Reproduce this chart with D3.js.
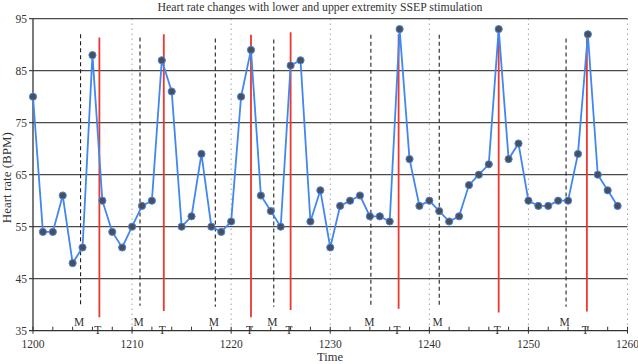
<!DOCTYPE html>
<html lang="en">
<head>
<meta charset="UTF-8">
<title>Heart rate SSEP</title>
<script src="https://d3js.org/d3.v7.min.js"></script>
<style>
  body { margin: 0; background: #fff; }
  svg text { font-family: "Liberation Serif", "DejaVu Serif", serif; fill: #333; }
</style>
</head>
<body>
<svg width="638" height="364"></svg>
<script>
// heart rate, one reading per time step from 1200 to 1259
const times = d3.range(1200, 1260);
const heartRate = [80, 54, 54, 61, 48, 51, 88, 60, 54, 51,
                   55, 59, 60, 87, 81, 55, 57, 69, 55, 54,
                   56, 80, 89, 61, 58, 55, 86, 87, 56, 62,
                   51, 59, 60, 61, 57, 57, 56, 93, 68, 59,
                   60, 58, 56, 57, 63, 65, 67, 93, 68, 71,
                   60, 59, 59, 60, 60, 69, 92, 65, 62, 59];

// stimulation markers: M = lower extremity (dashed), T = upper extremity (red)
const mTimes = [1204.8, 1210.8, 1218.4, 1224.3, 1234.1, 1241, 1253.8];
const mTop = [92, 91.4, 91.2, 91, 91.9, 91.9, 91.2];
const mBottom = [39.6, 39.8, 39.6, 39.6, 39.6, 39.4, 39.6];
const tTimes = [1206.7, 1213.2, 1222, 1226, 1236.9, 1247, 1255.9];
const tTop = [91.4, 92, 91.9, 92.4, 92, 93, 92.2];
const tBottom = [37.6, 38.8, 37.6, 39, 39.2, 38.5, 38.7];

const yTicks = [35, 45, 55, 65, 75, 85, 95];
const xMajor = [1200, 1210, 1220, 1230, 1240, 1250, 1260];
const xMinor = d3.range(1202, 1260, 2).filter(v => v % 10 !== 0);

const svg = d3.select("svg");
const x = d3.scaleLinear().domain([1200, 1260]).range([33, 627.5]);
const y = d3.scaleLinear().domain([35, 95]).range([330.7, 18.7]);

// vertical dotted grid
svg.append("g").selectAll("line").data(xMajor.slice(1)).join("line")
  .attr("x1", d => x(d)).attr("x2", d => x(d))
  .attr("y1", y(95)).attr("y2", y(35))
  .attr("stroke", "#777").attr("stroke-width", 1)
  .attr("stroke-dasharray", "1,4");

// horizontal grid
svg.append("g").selectAll("line").data(yTicks.slice(1)).join("line")
  .attr("x1", x(1200) - 4).attr("x2", x(1260))
  .attr("y1", d => y(d)).attr("y2", d => y(d))
  .attr("stroke", "#4a4a4a").attr("stroke-width", 1.2);

// y tick labels
svg.append("g").selectAll("text").data(yTicks).join("text")
  .attr("x", 27).attr("y", d => y(d) + 4)
  .attr("text-anchor", "end").style("font-size", "11.5px")
  .text(d => d);

// axes lines
svg.append("line").attr("x1", x(1200)).attr("x2", x(1200))
  .attr("y1", y(95)).attr("y2", y(35)).attr("stroke", "#333").attr("stroke-width", 1.3);
svg.append("line").attr("x1", x(1200) - 4).attr("x2", x(1260))
  .attr("y1", y(35)).attr("y2", y(35)).attr("stroke", "#333").attr("stroke-width", 1.3);

// x ticks
svg.append("g").selectAll("line").data(xMinor).join("line")
  .attr("x1", d => x(d)).attr("x2", d => x(d))
  .attr("y1", y(35)).attr("y2", y(35) - 4)
  .attr("stroke", "#333").attr("stroke-width", 1);
svg.append("g").selectAll("line").data(xMajor).join("line")
  .attr("x1", d => x(d)).attr("x2", d => x(d))
  .attr("y1", y(35) - 4).attr("y2", y(35) + 3)
  .attr("stroke", "#333").attr("stroke-width", 1);
svg.append("g").selectAll("text").data(xMajor).join("text")
  .attr("x", d => x(d)).attr("y", 348)
  .attr("text-anchor", "middle").style("font-size", "11.5px")
  .text(d => d);

// M markers
svg.append("g").selectAll("line").data(mTimes).join("line")
  .attr("x1", d => x(d)).attr("x2", d => x(d))
  .attr("y1", (d, i) => y(mTop[i])).attr("y2", (d, i) => y(mBottom[i]))
  .attr("stroke", "#222").attr("stroke-width", 1.1)
  .attr("stroke-dasharray", "4,3");
svg.append("g").selectAll("text").data(mTimes).join("text")
  .attr("x", d => x(d) - 1.5).attr("y", 326)
  .attr("text-anchor", "middle").style("font-size", "11.5px")
  .text("M");

// T markers
svg.append("g").selectAll("line").data(tTimes).join("line")
  .attr("x1", d => x(d)).attr("x2", d => x(d))
  .attr("y1", (d, i) => y(tTop[i])).attr("y2", (d, i) => y(tBottom[i]))
  .attr("stroke", "#e8382f").attr("stroke-width", 1.8);
svg.append("g").selectAll("text").data(tTimes).join("text")
  .attr("x", d => x(d) - 1.5).attr("y", 334)
  .attr("text-anchor", "middle").style("font-size", "11.5px")
  .text("T");

// heart rate line
const pts = times.map((t, i) => [t, heartRate[i]]);
svg.append("path").datum(pts)
  .attr("fill", "none").attr("stroke", "#4286f0").attr("stroke-width", 1.8)
  .attr("d", d3.line().x(d => x(d[0])).y(d => y(d[1])));
svg.append("g").selectAll("circle").data(pts).join("circle")
  .attr("cx", d => x(d[0])).attr("cy", d => y(d[1])).attr("r", 3.6)
  .attr("fill", "#4d4f55").attr("stroke", "#4286f0").attr("stroke-width", 1);

// titles
svg.append("text").attr("x", 320).attr("y", 11)
  .attr("text-anchor", "middle").style("font-size", "11.8px")
  .text("Heart rate changes with lower and upper extremity SSEP stimulation");
svg.append("text").attr("x", 330).attr("y", 361)
  .attr("text-anchor", "middle").style("font-size", "12.5px")
  .text("Time");
svg.append("text").attr("transform", "translate(11," + (y(65) + 3) + ") rotate(-90)")
  .attr("text-anchor", "middle").style("font-size", "13px")
  .text("Heart rate (BPM)");
</script>
</body>
</html>
